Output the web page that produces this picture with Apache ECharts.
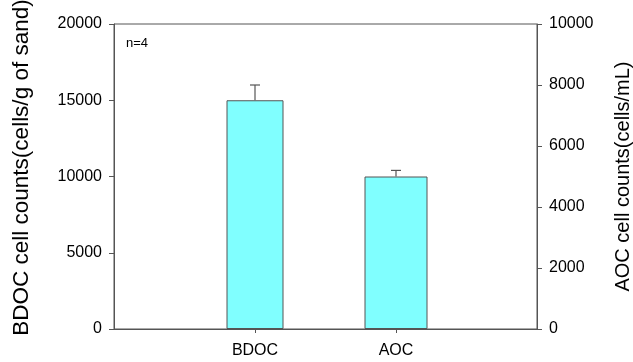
<!DOCTYPE html>
<html><head><meta charset="utf-8">
<script src="https://cdn.jsdelivr.net/npm/echarts@6/dist/echarts.min.js"></script>
<style>html,body{margin:0;padding:0;background:#fff}#c{width:633px;height:362px}</style>
</head><body><div id="c"></div>
<script>
var categories = ['BDOC', 'AOC'];
var bdocValue = 15000;   // left axis
var bdocError = 1000;
var aocValue = 5000;     // right axis
var aocError = 200;
var leftTicks = [0, 5000, 10000, 15000, 20000];
var rightTicks = [0, 2000, 4000, 6000, 8000, 10000];
var sampleNote = 'n=4';

var axisColor = '#555';
var font = 'Arial, "Liberation Sans", sans-serif';

function errorItem(params, api) {
  var x = api.value(0), y = api.value(1), e = api.value(2);
  var top = api.coord([x, y + e]);
  var base = api.coord([x, y]);
  var style = {stroke: axisColor, lineWidth: 1.2};
  return {type: 'group', children: [
    {type: 'line', shape: {x1: top[0], y1: top[1], x2: base[0], y2: base[1]}, style: style},
    {type: 'line', shape: {x1: top[0] - 5, y1: top[1], x2: top[0] + 5, y2: top[1]}, style: style}
  ]};
}
function plain(v) { return String(v); }

var chart = echarts.init(document.getElementById('c'));
chart.setOption({
  animation: false,
  grid: {left: 114, right: 96, top: 24, bottom: 33, show: true, borderColor: axisColor, borderWidth: 1,
    outerBoundsMode: 'none', containLabel: false},
  graphic: [{type: 'text', left: 126, top: 37, style: {text: sampleNote, font: '13px ' + font, fill: '#000'}}],
  xAxis: [{
    type: 'value', min: 0, max: 3, interval: 1,
    splitLine: {show: false},
    axisLine: {onZero: false, lineStyle: {color: axisColor}},
    axisTick: {customValues: [1, 2], length: 4, lineStyle: {color: axisColor}},
    axisLabel: {customValues: [1, 2], margin: 14, color: '#000', fontSize: 16, fontFamily: font,
      formatter: function (v) { return categories[Math.round(v) - 1] || ''; }}
  }, {
    type: 'value', min: 0, max: 3, show: false, gridIndex: 0
  }],
  yAxis: [{
    type: 'value', min: leftTicks[0], max: leftTicks[leftTicks.length - 1], interval: 5000,
    name: 'BDOC cell counts(cells/g of sand)', nameLocation: 'middle', nameGap: 81,
    nameTextStyle: {fontSize: 22.5, fontFamily: font, color: '#000', padding: [0, 0, 0, 18]},
    splitLine: {show: false},
    axisLine: {show: true, onZero: false, lineStyle: {color: axisColor}},
    axisTick: {show: true, length: 5, lineStyle: {color: axisColor}},
    axisLabel: {margin: 12, color: '#000', fontSize: 16, fontFamily: font, formatter: plain}
  }, {
    type: 'value', position: 'right', min: rightTicks[0], max: rightTicks[rightTicks.length - 1], interval: 2000,
    name: 'AOC cell counts(cells/mL)', nameLocation: 'middle', nameGap: 76, nameRotate: 90,
    nameTextStyle: {fontSize: 20, fontFamily: font, color: '#000'},
    splitLine: {show: false},
    axisLine: {show: true, onZero: false, lineStyle: {color: axisColor}},
    axisTick: {show: true, length: 5, lineStyle: {color: axisColor}},
    axisLabel: {margin: 12, color: '#000', fontSize: 16, fontFamily: font, formatter: plain}
  }],
  series: [{
    type: 'bar', xAxisIndex: 0, yAxisIndex: 0, barWidth: 57,
    itemStyle: {color: '#80FFFF', borderColor: axisColor, borderWidth: 1},
    data: [[1, bdocValue]], z: 2
  }, {
    type: 'bar', xAxisIndex: 1, yAxisIndex: 1, barWidth: 63,
    itemStyle: {color: '#80FFFF', borderColor: axisColor, borderWidth: 1},
    data: [[2, aocValue]], z: 2
  }, {
    type: 'custom', xAxisIndex: 0, yAxisIndex: 0, renderItem: errorItem,
    data: [[1, bdocValue, bdocError]], z: 1
  }, {
    type: 'custom', xAxisIndex: 0, yAxisIndex: 1, renderItem: errorItem,
    data: [[2, aocValue, aocError]], z: 1
  }]
});
</script></body></html>
